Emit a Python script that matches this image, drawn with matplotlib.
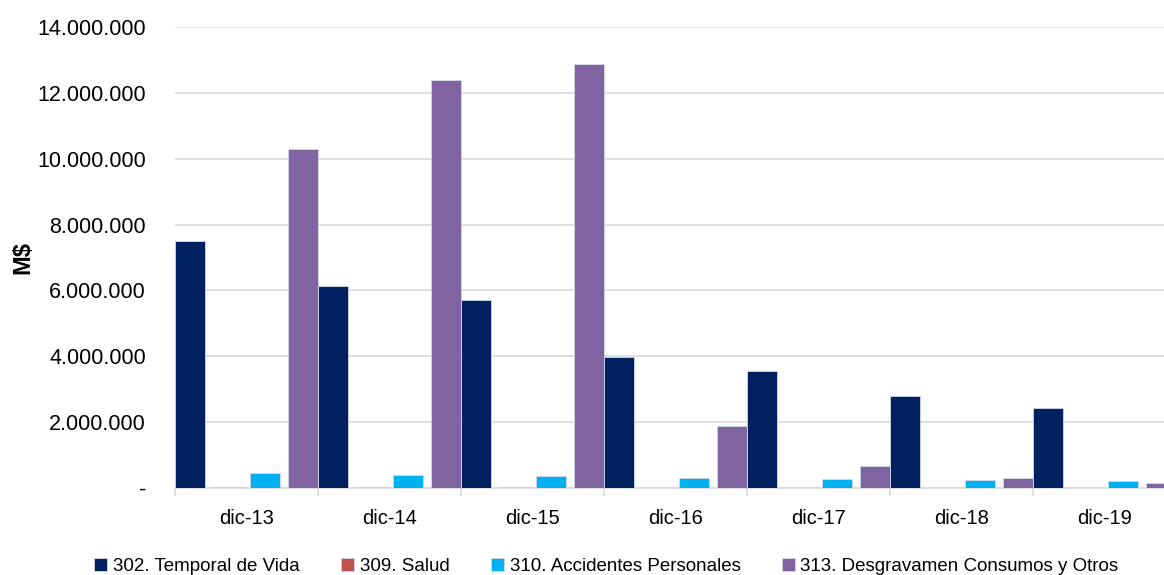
import matplotlib.pyplot as plt
import numpy as np
from matplotlib.ticker import FuncFormatter

categories = ["dic-13", "dic-14", "dic-15", "dic-16", "dic-17", "dic-18", "dic-19"]
series = [
    "302. Temporal de Vida",
    "309. Salud",
    "310. Accidentes Personales",
    "313. Desgravamen Consumos y Otros",
]
temporal_vida = [7500000, 6130000, 5700000, 3970000, 3550000, 2790000, 2430000]
salud = [30000, 25000, 20000, 15000, 6000, 4000, 3000]
accidentes = [455000, 400000, 365000, 305000, 265000, 240000, 210000]
desgravamen = [10300000, 12390000, 12880000, 1890000, 670000, 300000, 150000]
colors = ["#002060", "#C0504D", "#00B0F0", "#8064A2"]

plt.rcParams["font.family"] = ["Liberation Sans", "DejaVu Sans"]

fig = plt.figure(figsize=(11.64, 5.75), dpi=100)
ax = fig.add_axes([175 / 1164, 1 - 488 / 575, 1001 / 1164, 461 / 575])

x = np.arange(len(categories))
width = 0.21
step = 0.2633
values = [temporal_vida, salud, accidentes, desgravamen]
for k, (name, vals, c) in enumerate(zip(series, values, colors)):
    ax.bar(x + (k - 1.5) * step, vals, width, color=c, label=name,
           edgecolor="#d0d8e8", linewidth=0.6, zorder=3)

ax.set_xlim(-0.5, len(categories) - 0.5)
ax.set_ylim(0, 14000000)
ax.set_yticks(np.arange(0, 14000001, 2000000))
ax.yaxis.set_major_formatter(FuncFormatter(
    lambda v, p: "-" if v == 0 else f"{int(v):,}".replace(",", ".")))
ax.grid(axis="y", color="#d9d9d9", linewidth=1.2, zorder=0)
ax.set_axisbelow(True)

ax.set_xticks(x)
ax.set_xticklabels(categories)
ax.set_xticks(np.arange(-0.5, len(categories)), minor=True)
ax.tick_params(axis="x", which="major", length=0, pad=15, labelsize=14.5)
ax.tick_params(axis="x", which="minor", length=6, color="#d9d9d9", width=1.2)
ax.tick_params(axis="y", length=0, pad=21, labelsize=15.5)

for s in ["top", "right", "left"]:
    ax.spines[s].set_visible(False)
ax.spines["bottom"].set_color("#d9d9d9")
ax.spines["bottom"].set_linewidth(1.2)

ax.set_ylabel("M$", fontsize=17, fontweight="bold", labelpad=2)

fig.legend(loc="lower center", ncol=4, bbox_to_anchor=(0.521, -0.03), frameon=False,
           fontsize=13.5, handlelength=0.7, handleheight=0.7, handletextpad=0.3,
           columnspacing=2.2)

fig.savefig("out.png", dpi=100)
